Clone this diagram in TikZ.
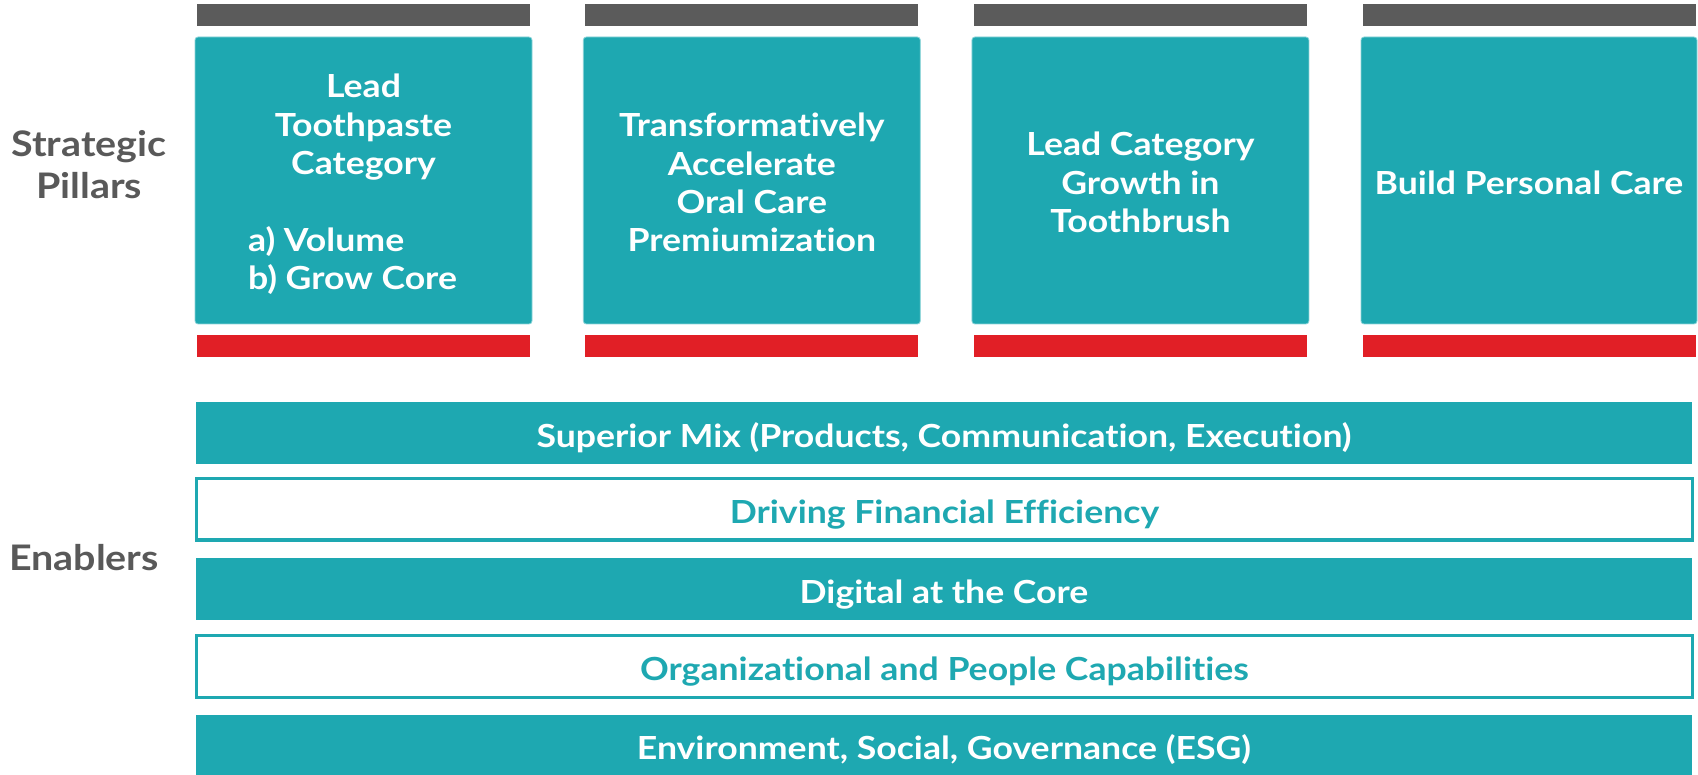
\documentclass[tikz,border=0pt]{standalone}
\usepackage{fontspec}
\setmainfont{Lato}[FakeStretch=1.12, Ligatures=NoCommon]
\definecolor{tealc}{HTML}{1EA8B1}
\definecolor{tealedge}{HTML}{8AD3D8}
\definecolor{capgray}{HTML}{5B5B5B}
\definecolor{basered}{HTML}{E11F26}
\definecolor{labelgray}{HTML}{595959}
\begin{document}
\begin{tikzpicture}[x=0.5pt,y=-0.5pt,
  txt/.style={font=\bfseries\fontsize{15.9}{19.2}\selectfont, align=center},
  pillar/.style={txt, fill=tealc, draw=tealedge, line width=0.4pt, rounded corners=1.5pt,
    text=white, minimum width=168.5pt, minimum height=143.5pt, inner sep=0pt},
  capbar/.style={fill=capgray, minimum width=166.5pt, minimum height=11pt, inner sep=0pt},
  basebar/.style={fill=basered, minimum width=166.5pt, minimum height=11pt, inner sep=0pt},
  barlabel/.style={txt, text height=14pt, text depth=0pt},
  solidbar/.style={barlabel, fill=tealc, text=white, minimum width=748pt, minimum height=31pt, inner sep=0pt},
  openbar/.style={barlabel, draw=tealc, line width=1.65pt, text=tealc, fill=white,
    minimum width=747.9pt, minimum height=30.85pt, inner sep=0pt},
  sidelabel/.style={font=\bfseries\fontsize{17.6}{21}\selectfont, align=center, text=labelgray}]

\useasboundingbox (0,0) rectangle (1698,775);

% strategic pillars: cap bar, pillar box, base bar
\foreach \i/\cx in {1/363.5, 2/751.8, 3/1140.4, 4/1529}{
  \node[capbar] (cap\i) at (\cx,15) {};
  \node[basebar] (base\i) at (\cx,346) {};
}

\node[pillar] (p1) at (363.5,180.5) {\rule{0pt}{19pt}Lead\\Toothpaste\\Category\\[19.2pt]%
  \begin{tabular}[t]{@{}l@{}}a) Volume\\b) Grow Core\end{tabular}\hspace*{11pt}};
\node[pillar] (p2) at (751.8,180.5) {\rule{0pt}{14pt}Transformatively\\Accelerate\\Oral Care\\Premiumization};
\node[pillar] (p3) at (1140.4,180.5) {\rule{0pt}{14pt}Lead Category\\Growth in\\Toothbrush};
\node[pillar, minimum width=168pt] (p4) at (1529,180.5) {\rule{0pt}{14pt}Build Personal Care};

% enablers
\node[solidbar] (e1) at (944,433) {Superior Mix (Products, Communication, Execution)};
\node[openbar]  (e2) at (944.5,509.2) {Driving Financial Efficiency};
\node[solidbar] (e3) at (944,589) {Digital at the Core};
\node[openbar]  (e4) at (944.5,666.3) {Organizational and People Capabilities};
\node[solidbar, minimum height=30pt] (e5) at (944,745) {Environment, Social, Governance (ESG)};

% row labels
\node[sidelabel] (lblpillars) at (89,165) {Strategic\\Pillars};
\node[sidelabel] (lblenablers) at (84,558) {Enablers};
\end{tikzpicture}
\end{document}
